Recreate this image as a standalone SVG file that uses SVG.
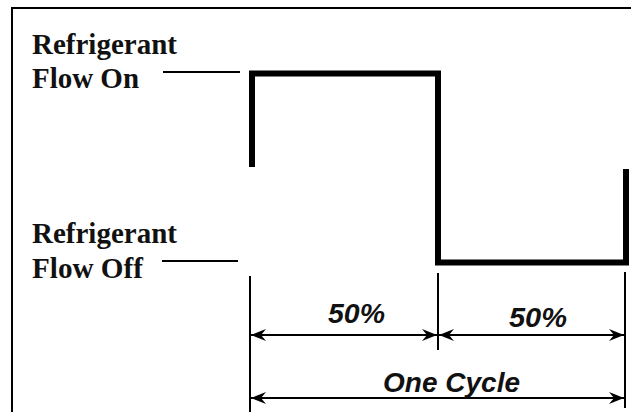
<svg xmlns="http://www.w3.org/2000/svg" width="631" height="412" viewBox="0 0 631 412">
<style>
.lbl{font-family:"Liberation Serif","Times New Roman",serif;font-weight:bold;font-size:29px;fill:#111}
.pct{font-family:"Liberation Sans",Arial,sans-serif;font-weight:bold;font-style:italic;font-size:28px;fill:#111}
.thin{stroke:#000;stroke-width:2;fill:none}
.wave{stroke:#000;stroke-width:6;fill:none;stroke-linejoin:miter}
</style>
<defs>
<marker id="ah" markerUnits="userSpaceOnUse" markerWidth="20" markerHeight="16" viewBox="-16 -8 18 16" refX="0" refY="0" orient="auto-start-reverse">
<path d="M0,0 L-15,-6 L-10,0 L-15,6 Z" fill="#000"/>
</marker>
</defs>
<rect width="631" height="412" fill="#fff"/>
<g id="frame">
<path class="thin" d="M12,412 V8 H631"/>
</g>
<g id="label-on">
<text class="lbl" x="32" y="54" textLength="145" lengthAdjust="spacingAndGlyphs">Refrigerant</text>
<text class="lbl" x="32" y="88" textLength="107" lengthAdjust="spacingAndGlyphs">Flow On</text>
</g>
<g id="label-off">
<text class="lbl" x="32" y="243" textLength="145" lengthAdjust="spacingAndGlyphs">Refrigerant</text>
<text class="lbl" x="32" y="278" textLength="111" lengthAdjust="spacingAndGlyphs">Flow Off</text>
</g>
<g id="waveform">
<path class="wave" d="M252,167 V73.5 H438 V262.5 H626 V169"/>
</g>
<g id="connectors">
<line class="thin" x1="163" y1="72" x2="240" y2="72"/>
<line class="thin" x1="162" y1="261" x2="238" y2="261"/>
<line class="thin" x1="250" y1="276" x2="250" y2="412"/>
<line class="thin" x1="438" y1="273" x2="438" y2="350"/>
<line class="thin" x1="625" y1="272" x2="625" y2="408"/>
<line class="thin" x1="251" y1="335" x2="437" y2="335" marker-start="url(#ah)" marker-end="url(#ah)"/>
<line class="thin" x1="439" y1="335" x2="624" y2="335" marker-start="url(#ah)" marker-end="url(#ah)"/>
<line class="thin" x1="251" y1="398" x2="624" y2="398" marker-start="url(#ah)" marker-end="url(#ah)"/>
</g>
<g id="dim-labels">
<text class="pct" x="328" y="323" textLength="57" lengthAdjust="spacingAndGlyphs">50%</text>
<text class="pct" x="509" y="327" textLength="58" lengthAdjust="spacingAndGlyphs">50%</text>
<text class="pct" x="383" y="392" textLength="137" lengthAdjust="spacingAndGlyphs">One Cycle</text>
</g>
</svg>
